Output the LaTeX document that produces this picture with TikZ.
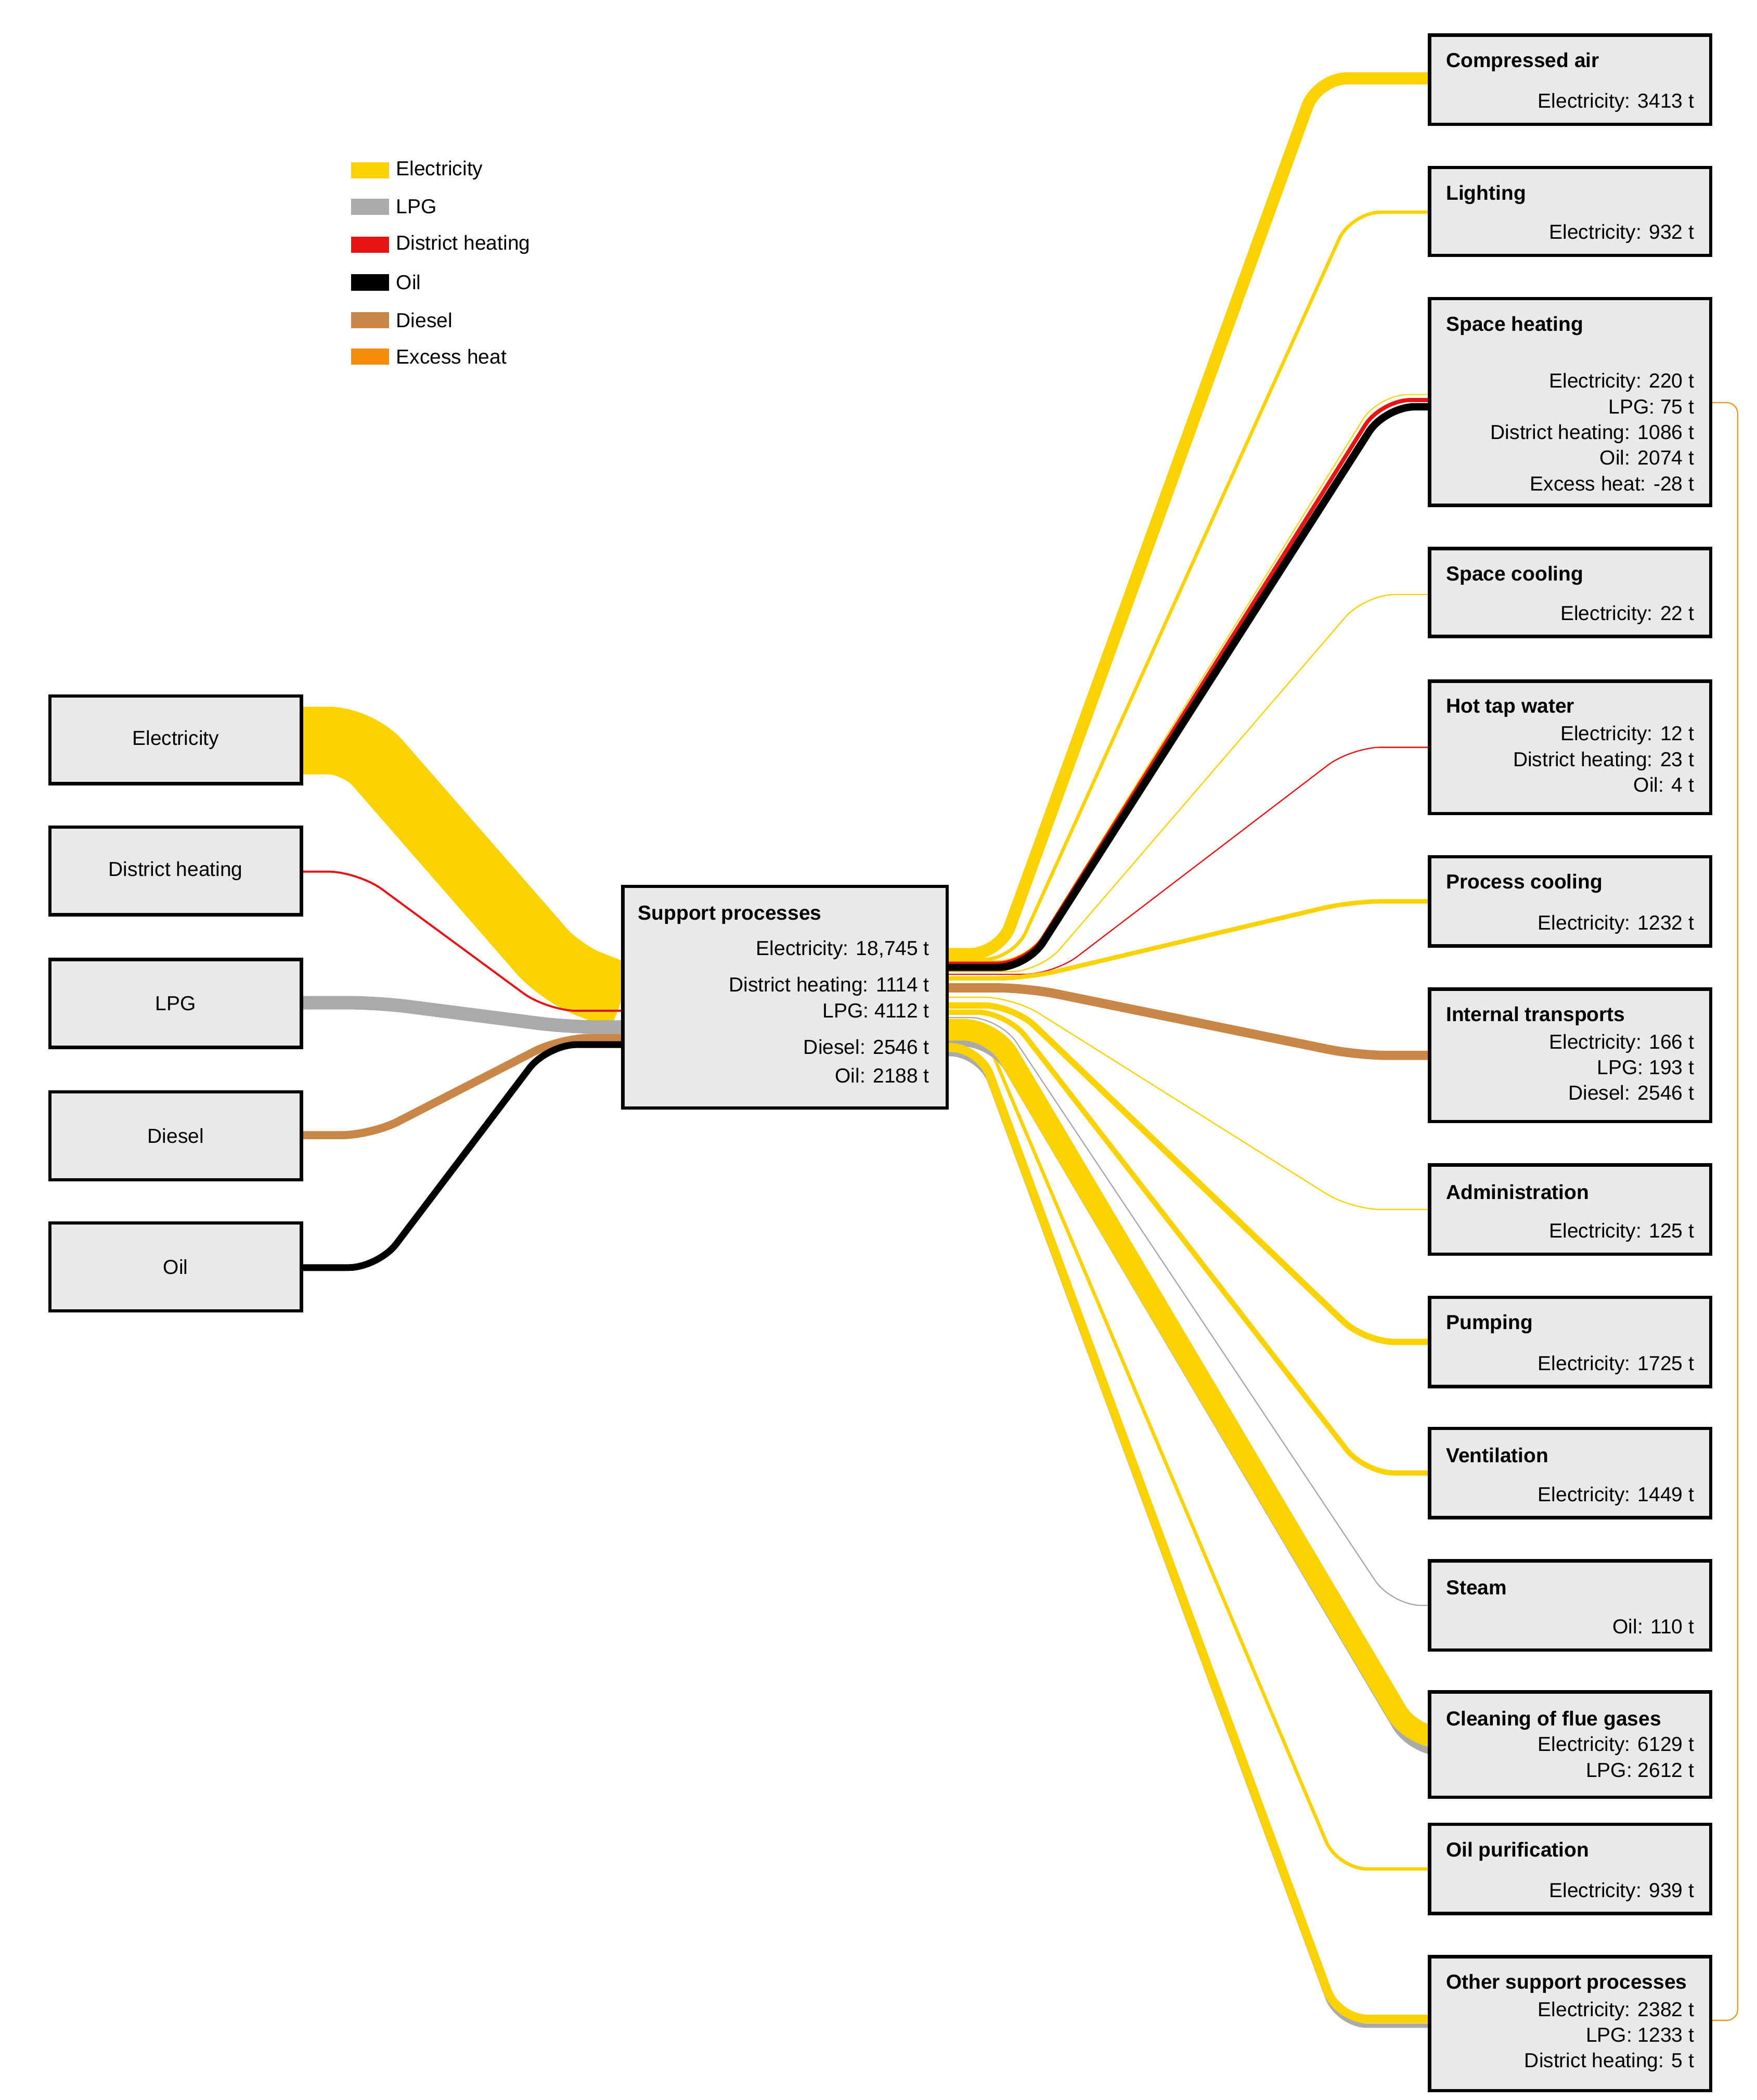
\documentclass[tikz,border=0pt]{standalone}
\usepackage{fontspec}
\setmainfont{Liberation Sans}
\usetikzlibrary{backgrounds}
\begin{document}
\begin{tikzpicture}[x=1pt,y=-1pt,
  box/.style={draw,line width=2.5pt,fill=gray!17,anchor=north west,inner sep=0pt,outer sep=0pt},
  ttl/.style={anchor=west,font=\fontsize{15}{18}\selectfont\bfseries,inner sep=0pt},
  val/.style={anchor=north east,align=right,font=\fontsize{15}{19}\selectfont,inner sep=0pt},
  lbl/.style={font=\fontsize{15}{18}\selectfont,inner sep=0pt},
  el/.style={color=elc},lp/.style={color=lpc},dh/.style={color=dhc},
  oi/.style={color=black},di/.style={color=dic},
  fl/.style={rounded corners=22pt,line cap=butt}]
\definecolor{elc}{RGB}{250,210,0}
\definecolor{lpc}{RGB}{170,170,170}
\definecolor{dhc}{RGB}{230,20,20}
\definecolor{dic}{RGB}{200,135,70}
\definecolor{exc}{RGB}{245,140,10}
\useasboundingbox (0,0) rectangle (1300,1554);
% legend
\foreach \y/\c/\t in {126/elc/Electricity,153/lpc/LPG,181/dhc/District heating,209/black/Oil,237/dic/Diesel,264/exc/Excess heat}{
  \fill[\c] (260,\y-6) rectangle (288,\y+6);
  \node[lbl,anchor=west] at (293,\y) {\t};}
% left boxes
\foreach \n/\y/\t in {le/515/Electricity,ld/612/District heating,ll/710/LPG,ldi/808/Diesel,lo/905/Oil}{
  \node[box,minimum width=186pt,minimum height=65pt] (\n) at (37,\y) {};
  \node[lbl] at (\n.center) {\t};}
% center
\node[box,minimum width=240pt,minimum height=164pt] (sp) at (461,656) {};
\node[ttl] at (472,677) {Support processes};
\node[val,font=\fontsize{15}{27}\selectfont] at (688,696) {Electricity: 18,745 t\\District heating: 1114 t\\[-8pt]LPG: 4112 t\\Diesel: 2546 t\\[-6pt]Oil: 2188 t};
% right boxes
\newcommand{\rbox}[5]{% name, top, height, title, values
  \node[box,minimum width=208pt,minimum height=#3pt] (#1) at (1058,#2) {};
  \node[ttl] at (1070,#2+20) {#4};
  \node[val] at (1254,#2+#3-23) {#5};}
\rbox{ca}{26}{66}{Compressed air}{Electricity: 3413 t}
\rbox{li}{124}{65}{Lighting}{Electricity: 932 t}
\node[box,minimum width=208pt,minimum height=153pt] (sh) at (1058,221) {};
\node[ttl] at (1070,241) {Space heating};
\node[val] at (1254,276) {Electricity: 220 t\\LPG: 75 t\\District heating: 1086 t\\Oil: 2074 t\\Excess heat: -28 t};
\rbox{sc}{406}{65}{Space cooling}{Electricity: 22 t}
\node[box,minimum width=208pt,minimum height=98pt] (ht) at (1058,504) {};
\node[ttl] at (1070,524) {Hot tap water};
\node[val] at (1254,537) {Electricity: 12 t\\District heating: 23 t\\Oil: 4 t};
\rbox{pc}{634}{66}{Process cooling}{Electricity: 1232 t}
\node[box,minimum width=208pt,minimum height=98pt] (it) at (1058,732) {};
\node[ttl] at (1070,752) {Internal transports};
\node[val] at (1254,765) {Electricity: 166 t\\LPG: 193 t\\Diesel: 2546 t};
\rbox{ad}{862}{66}{Administration}{Electricity: 125 t}
\rbox{pu}{960}{66}{Pumping}{Electricity: 1725 t}
\rbox{ve}{1057}{66}{Ventilation}{Electricity: 1449 t}
\rbox{st}{1155}{66}{Steam}{Oil: 110 t}
\node[box,minimum width=208pt,minimum height=78pt] (cf) at (1058,1252) {};
\node[ttl] at (1070,1273) {Cleaning of flue gases};
\node[val] at (1254,1285) {Electricity: 6129 t\\LPG: 2612 t};
\rbox{op}{1350}{66}{Oil purification}{Electricity: 939 t}
\node[box,minimum width=208pt,minimum height=99pt] (ot) at (1058,1448) {};
\node[ttl] at (1070,1468) {Other support processes};
\node[val] at (1254,1481) {Electricity: 2382 t\\LPG: 1233 t\\District heating: 5 t};
\begin{scope}[on background layer]
% left flows
\draw[el,line width=50pt,fl] (le.east|-0,548) -- (265,548) -- (415,720) -- (sp.west|-0,738);
\draw[dh,line width=1.5pt,fl] (ld.east|-0,645) -- (265,645) -- (405,748) -- (sp.west|-0,748);
\draw[lp,line width=10pt,fl] (ll.east|-0,742) -- (280,742) -- (420,760) -- (sp.west|-0,760);
\draw[di,line width=6pt,fl] (ldi.east|-0,840) -- (275,840) -- (415,768) -- (sp.west|-0,768);
\draw[oi,line width=5pt,fl] (lo.east|-0,938) -- (280,938) -- (405,773) -- (sp.west|-0,773);
% right flows
\newcommand{\flow}[7]{% style,width,y0,xa,xb,y1,target
  \draw[#1,line width=#2pt,fl] (sp.east|-0,#3) -- (#4,#3) -- (#5,#6) -- (#7.west|-0,#6);}
\flow{el}{9}{706}{740}{975}{58}{ca}
\flow{el}{2.5}{710}{750}{1000}{157}{li}
\flow{el}{0.8}{711}{760}{1020}{292}{sh}
\flow{dh}{3}{713}{760}{1022}{296}{sh}
\flow{oi}{5.5}{716}{760}{1025}{301}{sh}
\flow{el}{0.9}{719}{770}{1010}{440}{sc}
\flow{dh}{0.9}{721}{780}{1000}{553}{ht}
\flow{el}{3.3}{724}{760}{1000}{667}{pc}
\flow{di}{6.8}{731}{760}{1005}{781}{it}
\flow{el}{0.9}{738}{750}{1000}{895}{ad}
\flow{el}{4.6}{744}{750}{1010}{993}{pu}
\flow{el}{3.9}{749}{745}{1010}{1090}{ve}
\flow{lp}{0.9}{753}{740}{1030}{1188}{st}
\flow{el}{2.5}{757}{725}{990}{1383}{op}
\flow{lp}{7}{771}{735}{1045}{1296}{cf}
\flow{el}{16}{762}{735}{1045}{1286}{cf}
\flow{lp}{3.3}{780}{725}{990}{1499}{ot}
\flow{el}{6.4}{775}{725}{990}{1494}{ot}
% excess heat
\draw[exc,line width=0.8pt,rounded corners=8pt] (sh.east|-0,298) -- (1286,298) -- (1286,1495) -- (ot.east|-0,1495);
\end{scope}
\end{tikzpicture}
\end{document}
